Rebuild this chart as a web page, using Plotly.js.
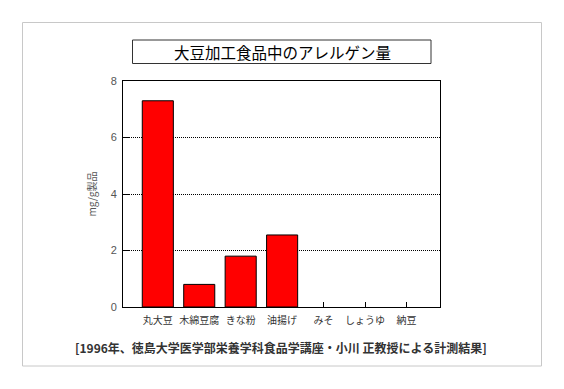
<!DOCTYPE html>
<html>
<head>
<meta charset="utf-8">
<script src="https://cdn.plot.ly/plotly-3.0.1.min.js"></script>
<style>html,body{margin:0;padding:0;background:#fff;}</style>
</head>
<body>
<div id="chart" style="width:564px;height:389px;"></div>
<script>
const categories = ["丸大豆", "木綿豆腐", "きな粉", "油揚げ", "みそ", "しょうゆ", "納豆"];
const values = [7.3, 0.8, 1.8, 2.55, 0, 0, 0];
const yTicks = [0, 2, 4, 6, 8];
const chartTitle = "大豆加工食品中のアレルゲン量";
const yTitle = "mg/g製品";
const footer = "[1996年、徳島大学医学部栄養学科食品学講座・小川 正教授による計測結果]";

const W = 564, H = 389;
const L = 123, R = 124, T = 81, B = 82;
const pw = W - L - R, ph = H - T - B;
const px = x => (x - L) / pw;
const py = y => (H - B - y) / ph;
const JP = '"Noto Sans CJK JP", sans-serif';

const trace = {
  type: 'bar',
  x: categories,
  y: values,
  width: 0.75,
  marker: {color: '#ff0000', line: {color: '#000', width: values.map(v => v > 0 ? 1 : 0)}},
  hoverinfo: 'x+y'
};

const layout = {
  width: W, height: H,
  margin: {l: L, r: R, t: T, b: B, pad: 0},
  paper_bgcolor: '#fff', plot_bgcolor: '#fff',
  showlegend: false,
  xaxis: {
    type: 'category',
    range: [-0.84, 6.81],
    showline: true, mirror: true, linecolor: '#000', linewidth: 1,
    ticks: 'inside', ticklen: 5, tickcolor: '#000', tickwidth: 1,
    showgrid: false, zeroline: false,
    layer: 'below traces',
    ticklabelstandoff: 4,
    tickfont: {family: JP, size: 10, color: '#333'},
    fixedrange: true
  },
  yaxis: {
    range: [0, 8],
    tickvals: yTicks,
    ticktext: yTicks.map(String),
    showline: true, mirror: true, linecolor: '#000', linewidth: 1,
    ticks: 'inside', ticklen: 6, tickcolor: '#000',
    showgrid: true, gridcolor: '#000', griddash: '1px,1px', gridwidth: 1,
    zeroline: false,
    layer: 'below traces',
    ticklabelstandoff: 3,
    tickfont: {family: '"Liberation Sans", Arial, sans-serif', size: 11, color: '#555'},
    title: {text: yTitle, font: {family: JP, size: 10, color: '#555'}, standoff: 12},
    fixedrange: true
  },
  shapes: [
    {type: 'rect', xref: 'paper', yref: 'paper',
     x0: px(22.5), x1: px(541.5), y0: py(366), y1: py(22.5),
     line: {color: '#c8c8c8', width: 1}, fillcolor: 'rgba(0,0,0,0)'},
    {type: 'rect', xref: 'paper', yref: 'paper',
     x0: px(132.5), x1: px(431), y0: py(63.5), y1: py(40),
     line: {color: '#333', width: 1}, fillcolor: 'rgba(0,0,0,0)'}
  ],
  annotations: [
    {text: chartTitle, xref: 'paper', yref: 'paper', x: px(282), y: py(52),
     xanchor: 'center', yanchor: 'middle', showarrow: false,
     font: {family: JP, size: 15.5, color: '#000'}},
    {text: '<b>' + footer + '</b>', xref: 'paper', yref: 'paper', x: px(281), y: py(347),
     xanchor: 'center', yanchor: 'middle', showarrow: false,
     font: {family: JP, size: 12, color: '#333'}}
  ]
};

Plotly.newPlot('chart', [trace], layout, {displayModeBar: false, staticPlot: true});
</script>
</body>
</html>
